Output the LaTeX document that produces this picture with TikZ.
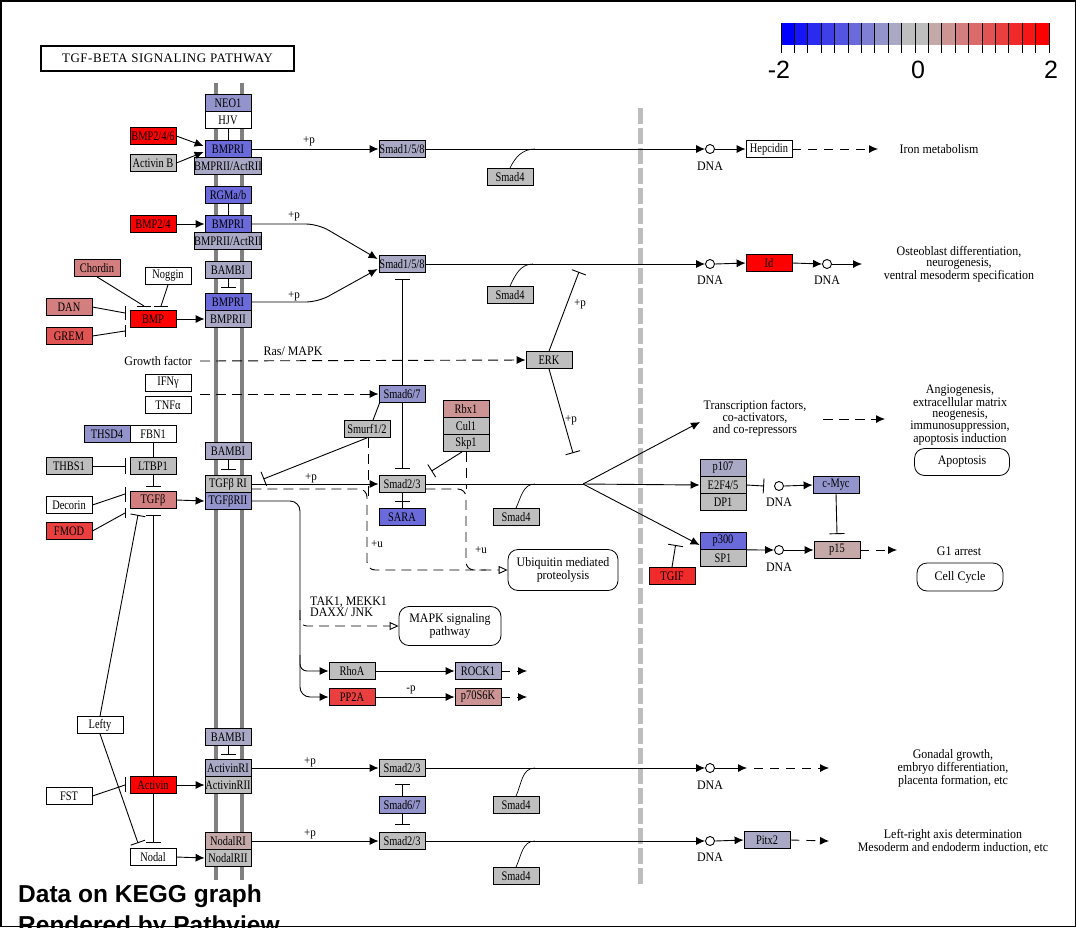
\documentclass[tikz,border=0pt]{standalone}
\usepackage{fontspec}
\setmainfont{Liberation Serif}
\newfontfamily\kfont{Liberation Serif}[FakeStretch=0.8]
\newfontfamily\lfont{Liberation Serif}[FakeStretch=0.92]
\newfontfamily\afont{Liberation Sans}
\usetikzlibrary{arrows.meta,calc}
\definecolor{kgray}{RGB}{190,190,190}
\definecolor{mgray}{RGB}{128,128,128}
\definecolor{b5}{RGB}{106,106,219}
\definecolor{b7}{RGB}{148,148,204}
\definecolor{b8}{RGB}{169,169,197}
\definecolor{r1}{RGB}{197,169,169}
\definecolor{r2}{RGB}{204,148,148}
\definecolor{r3}{RGB}{212,127,127}
\definecolor{r5}{RGB}{226,84,84}
\definecolor{r6}{RGB}{233,63,63}
\definecolor{r7}{RGB}{241,42,42}
\definecolor{r9}{RGB}{255,0,0}
\tikzset{
 gene/.style={draw=black, line width=0.8pt, minimum width=46pt, minimum height=17pt, inner sep=0pt, font=\kfont\fontsize{13}{13}\selectfont},
 lbl/.style={font=\lfont\fontsize{13}{11}\selectfont, align=center, inner sep=0pt},
 small/.style={font=\lfont\fontsize{12}{12}\selectfont, inner sep=0pt},
 conn/.style={line width=0.9pt},
 act/.style={conn, -{Latex[length=9pt,width=8pt]}},
 inh/.style={conn, -{Bar[width=15pt,line width=0.9pt]}},
 dsh/.style={dash pattern=on 10pt off 6pt},
 sdsh/.style={dash pattern=on 9pt off 7pt},
 oarr/.style={conn, dsh, -{Triangle[open,length=9pt,width=8pt,fill=white]}},
 dna/.style={circle, draw, line width=0.9pt, minimum size=9pt, inner sep=0pt},
 pbox/.style={draw, rounded corners=10pt, line width=0.8pt, align=center, inner sep=0pt, font=\lfont\fontsize{13}{11}\selectfont},
}
\begin{document}
\begin{tikzpicture}[x=1pt,y=-1pt]
\useasboundingbox (0,0) rectangle (1076,927);
\fill[white] (0,0) rectangle (1076,927);
\draw[line width=1.5pt] (0.75,0.75) rectangle (1075.25,926.25);

% membranes
\draw[line width=4pt, mgray] (216,83) -- (216,880);
\draw[line width=4pt, mgray] (242,83) -- (242,880);
\draw[line width=5pt, kgray, dash pattern=on 16pt off 4pt] (640,108) -- (640,885);

% title
\node[draw, line width=1.2pt, minimum width=253pt, minimum height=25pt, inner sep=0pt,
  font=\fontsize{13}{13}\selectfont\addfontfeature{LetterSpace=4}] (title) at (167.5,58.5) {TGF-BETA SIGNALING PATHWAY};

% colour key
\foreach \i in {0,...,9} {
  \pgfmathsetmacro\pp{100*\i/9}
  \fill[kgray!\pp!blue] (781+\i*13.4,23) rectangle (781+\i*13.4+13.4,45);
  \fill[red!\pp!kgray] (781+134+\i*13.4,23) rectangle (781+134+\i*13.4+13.4,45);
}
\foreach \i in {0,...,20} \draw[line width=0.9pt] (781+\i*13.4,23) -- (781+\i*13.4,53);
\node[font=\afont\fontsize{25}{25}\selectfont, anchor=base, inner sep=0pt] (km2) at (779,78) {-2};
\node[font=\afont\fontsize{25}{25}\selectfont, anchor=base, inner sep=0pt] (k0) at (918,78) {0};
\node[font=\afont\fontsize{25}{25}\selectfont, anchor=base, inner sep=0pt] (k2) at (1051,78) {2};

% ---------- membrane receptors
\node[gene, fill=b7] (neo1) at (228,103) {NEO1};
\node[gene, fill=white] (hjv) at (228,120) {HJV};
\node[gene, fill=b5] (bmpri1) at (228,149) {BMPRI};
\node[gene, fill=b8] (bmprii1) at (228,166) {BMPRII/ActRII};
\node[gene, fill=b5] (rgm) at (228,195) {RGMa/b};
\node[gene, fill=b5] (bmpri2) at (228,224) {BMPRI};
\node[gene, fill=b8] (bmprii2) at (228,241) {BMPRII/ActRII};
\node[gene, fill=b8] (bambi1) at (228,270) {BAMBI};
\node[gene, fill=b5] (bmpri3) at (228,302) {BMPRI};
\node[gene, fill=b8] (bmprii3) at (228,319) {BMPRII};
\node[gene, fill=b8] (bambi2) at (228,451) {BAMBI};
\node[gene, fill=kgray] (tgfbr1) at (228,484) {TGFβ RI};
\node[gene, fill=b7] (tgfbr2) at (228,501) {TGFβRII};
\node[gene, fill=b8] (bambi3) at (228,737) {BAMBI};
\node[gene, fill=b8] (actr1) at (228,768) {ActivinRI};
\node[gene, fill=kgray] (actr2) at (228,785) {ActivinRII};
\node[gene, fill=r1] (nodr1) at (228,841) {NodalRI};
\node[gene, fill=kgray] (nodr2) at (228,858) {NodalRII};

% ---------- ligands
\node[gene, fill=r9] (bmp246) at (153,136) {BMP2/4/6};
\node[gene, fill=kgray] (actb) at (153,163) {Activin B};
\node[gene, fill=r9] (bmp24) at (153,224) {BMP2/4};
\node[gene, fill=r3] (chordin) at (97,268) {Chordin};
\node[gene, fill=white] (noggin) at (168,276) {Noggin};
\node[gene, fill=r3] (dan) at (69,307) {DAN};
\node[gene, fill=r5] (grem) at (69,336) {GREM};
\node[gene, fill=r9] (bmp) at (153,319) {BMP};
\node[lbl, anchor=east] (gf) at (192,361) {Growth factor};
\node[gene, fill=white] (ifng) at (168,383) {IFNγ};
\node[gene, fill=white] (tnfa) at (168,405) {TNFα};
\node[gene, fill=b7] (thsd4) at (107,434) {THSD4};
\node[gene, fill=white] (fbn1) at (153,434) {FBN1};
\node[gene, fill=kgray] (thbs1) at (69,466) {THBS1};
\node[gene, fill=kgray] (ltbp1) at (153,466) {LTBP1};
\node[gene, fill=r3] (tgfb) at (153,500) {TGFβ};
\node[gene, fill=white] (decorin) at (69,505) {Decorin};
\node[gene, fill=r6] (fmod) at (69,531) {FMOD};
\node[gene, fill=white] (lefty) at (100,725) {Lefty};
\node[gene, fill=white] (fst) at (69,796) {FST};
\node[gene, fill=r9] (activin) at (153,785) {Activin};
\node[gene, fill=white] (nodal) at (153,857) {Nodal};

% ---------- cytoplasm
\node[gene, fill=b8] (smad158a) at (402,149) {Smad1/5/8};
\node[gene, fill=kgray] (smad4a) at (510,177) {Smad4};
\node[gene, fill=b8] (smad158b) at (402,264) {Smad1/5/8};
\node[gene, fill=kgray] (smad4b) at (510,295) {Smad4};
\node[gene, fill=kgray] (erk) at (549,360) {ERK};
\node[gene, fill=b7] (smad67a) at (402,394) {Smad6/7};
\node[gene, fill=kgray] (smurf) at (367,429) {Smurf1/2};
\node[gene, fill=r2] (rbx1) at (466,409) {Rbx1};
\node[gene, fill=kgray] (cul1) at (466,426) {Cul1};
\node[gene, fill=kgray] (skp1) at (466,443) {Skp1};
\node[gene, fill=kgray] (smad23a) at (402,484) {Smad2/3};
\node[gene, fill=b5] (sara) at (402,517) {SARA};
\node[gene, fill=kgray] (smad4c) at (516,517) {Smad4};
\node[pbox, minimum width=110pt, minimum height=41pt] (ubiq) at (563,570) {Ubiquitin mediated\\proteolysis};
\node[lbl, anchor=north west, align=left] (tak) at (310,597) {TAK1, MEKK1\\DAXX/ JNK};
\node[pbox, minimum width=102pt, minimum height=39pt] (mapk) at (450,626) {MAPK signaling\\pathway};
\node[gene, fill=kgray] (rhoa) at (352,671) {RhoA};
\node[gene, fill=b8] (rock1) at (478,671) {ROCK1};
\node[gene, fill=r6] (pp2a) at (352,697) {PP2A};
\node[gene, fill=r2] (p70) at (478,697) {p70S6K};
\node[gene, fill=kgray] (smad23b) at (402,768) {Smad2/3};
\node[gene, fill=b7] (smad67b) at (402,805) {Smad6/7};
\node[gene, fill=kgray] (smad23c) at (402,841) {Smad2/3};
\node[gene, fill=kgray] (smad4d) at (516,805) {Smad4};
\node[gene, fill=kgray] (smad4e) at (516,876) {Smad4};

% ---------- nucleus
\node[dna] (dna1) at (710,149) {};
\node[lbl] (dna1l) at (710,166) {DNA};
\node[gene, fill=white] (hepcidin) at (769,149) {Hepcidin};
\node[lbl] (iron) at (939,149) {Iron metabolism};
\node[dna] (dna2) at (710,264) {};
\node[lbl] (dna2l) at (710,280) {DNA};
\node[gene, fill=r9] (id) at (769,263) {Id};
\node[dna] (dna3) at (827,264) {};
\node[lbl] (dna3l) at (827,280) {DNA};
\node[lbl] (osteo) at (959,264) {Osteoblast differentiation,\\neurogenesis,\\ventral mesoderm specification};
\node[lbl] (tf) at (755,418) {Transcription factors,\\co-activators,\\and co-repressors};
\node[lbl] (angio) at (960,415) {Angiogenesis,\\extracellular matrix\\neogenesis,\\immunosuppression,\\apoptosis induction};
\node[pbox, minimum width=95pt, minimum height=27pt] (apop) at (962,462) {Apoptosis};
\node[gene, fill=b8] (p107) at (723,468) {p107};
\node[gene, fill=kgray] (e2f) at (723,485) {E2F4/5};
\node[gene, fill=kgray] (dp1) at (723,502) {DP1};
\node[dna] (dna4) at (779,486) {};
\node[lbl] (dna4l) at (779,502) {DNA};
\node[gene, fill=b7] (cmyc) at (836,485) {c-Myc};
\node[gene, fill=b5] (p300) at (723,541) {p300};
\node[gene, fill=kgray] (sp1) at (723,558) {SP1};
\node[gene, fill=r7] (tgif) at (672,576) {TGIF};
\node[dna] (dna5) at (779,550) {};
\node[lbl] (dna5l) at (779,567) {DNA};
\node[gene, fill=r1] (p15) at (837,550) {p15};
\node[lbl] (g1) at (959,551) {G1 arrest};
\node[pbox, minimum width=86pt, minimum height=28pt] (cc) at (960,577) {Cell Cycle};
\node[dna] (dna6) at (710,768) {};
\node[lbl] (dna6l) at (710,785) {DNA};
\node[lbl] (gonad) at (953,768) {Gonadal growth,\\embryo differentiation,\\placenta formation, etc};
\node[dna] (dna7) at (710,841) {};
\node[lbl] (dna7l) at (710,857) {DNA};
\node[gene, fill=b8] (pitx2) at (767,840) {Pitx2};
\node[lbl] (lr) at (953,841) {Left-right axis determination\\Mesoderm and endoderm induction, etc};

% labels
\node[small] (p1) at (309,141) {+p};
\node[small] (p2) at (294,216) {+p};
\node[small] (p3) at (294,296) {+p};
\node[small] (p4) at (311,478) {+p};
\node[small] (p5) at (310,762) {+p};
\node[small] (p6) at (310,834) {+p};
\node[small] (p7) at (580,304) {+p};
\node[small] (p8) at (571,420) {+p};
\node[small] (u1) at (377,544) {+u};
\node[small] (u2) at (481,550) {+u};
\node[small] (mp) at (411,690) {-p};
\node[lbl] (ras) at (293,351) {Ras/ MAPK};

% free ends
\coordinate (j1) at (535,149);
\coordinate (j2) at (533,264);
\coordinate (j3) at (535,484);
\coordinate (j4) at (535,768);
\coordinate (j5) at (535,841);
\coordinate (br) at (583,484);
\coordinate (tfarr) at (700,422);
\coordinate (ifnst) at (200,394);
\coordinate (rockend) at (527,671);
\coordinate (p70end) at (527,697);
\coordinate (ironend) at (878,149);
\coordinate (osend) at (862,264);
\coordinate (tfst) at (823,419);
\coordinate (tfend) at (885,419);
\coordinate (p15end) at (897,550);
\coordinate (d6a) at (747,768);
\coordinate (d6b) at (754,768);
\coordinate (d6c) at (829,768);
\coordinate (pitend) at (829,841);
\coordinate (chb) at (144,306);
\coordinate (ngb) at (161,306);
\coordinate (danb) at (125,313);
\coordinate (gremb) at (125,331);
\coordinate (thb) at (125,466);
\coordinate (decb) at (125,494);
\coordinate (fmb) at (125,513);
\coordinate (fstb) at (125,785);

% ---------- connectors: left
\draw[act] (bmp246.east) -- ($(bmpri1.west)+(-1,-3)$);
\draw[act] (actb.east) -- ($(bmpri1.west)+(-1,3)$);
\draw[conn] (hjv.south) -- (bmpri1.north);
\draw[conn] (rgm.south) -- (bmpri2.north);
\draw[act] (bmp24.east) -- (bmpri2.west);
\draw[inh] (bambi1.south) -- ($(bmpri3.north)+(0,-5)$);
\draw[conn] (chordin.south) -- (chb);
\draw[conn] ($(chb)+(-7,0)$) -- ($(chb)+(7,0)$);
\draw[conn] (noggin.south) -- (ngb);
\draw[conn] ($(ngb)+(-7,0)$) -- ($(ngb)+(7,0)$);
\draw[conn] (dan.east) -- (danb);
\draw[conn] ($(danb)+(0,-7)$) -- ($(danb)+(0,7)$);
\draw[conn] (grem.east) -- (gremb);
\draw[conn] ($(gremb)+(0,-6)$) -- ($(gremb)+(0,6)$);
\draw[act] (bmp.east) -- (bmprii3.west);
\draw[act, dsh] ($(gf.east)+(8,0)$) -- (erk.west);
\draw[act, dsh] (ifnst) -- (smad67a.west);
\draw[conn] (fbn1.south) -- (ltbp1.north);
\draw[conn] (thbs1.east) -- (thb);
\draw[conn] ($(thb)+(0,-8)$) -- ($(thb)+(0,8)$);
\draw[inh] (ltbp1.south) -- ($(tgfb.north)+(0,-4)$);
\draw[conn] (decorin.east) -- (decb);
\draw[conn] ($(decb)+(0,-7)$) -- ($(decb)+(0,8)$);
\draw[conn] (fmod.east) -- (fmb);
\draw[conn] ($(fmb)+(0,-5)$) -- ($(fmb)+(0,5)$);
\draw[act] (tgfb.east) -- (tgfbr2.west);
\draw[inh] (bambi2.south) -- ($(tgfbr1.north)+(0,-5)$);
\draw[inh] (activin.north) -- ($(tgfb.south)+(0,6)$);
\draw[inh] (activin.south) -- ($(nodal.north)+(0,-5)$);
\draw[inh] (lefty.north) -- ($(tgfb.south)+(-15,6)$);
\draw[inh] (lefty.south) -- ($(nodal.north)+(-15,-5)$);
\draw[conn] (fst.east) -- (fstb);
\draw[conn] ($(fstb)+(0,-8)$) -- ($(fstb)+(0,7)$);
\draw[act] (activin.east) -- (actr2.west);
\draw[act] (nodal.east) -- (nodr2.west);
\draw[inh] (bambi3.south) -- ($(actr1.north)+(0,-4)$);

% ---------- connectors: middle
\draw[act] (bmpri1.east) -- (smad158a.west);
\draw[act, rounded corners=12pt] (bmpri2.east) -- (318,224) -- ($(smad158b.west)+(-1,-5)$);
\draw[act, rounded corners=12pt] (bmpri3.east) -- (318,302) -- ($(smad158b.west)+(-1,5)$);
\draw[act] (smad158a.east) -- (dna1.west);
\draw[conn, line width=0.7pt] (smad4a.north) to[out=65,in=180] (j1);
\draw[act] (smad158b.east) -- (dna2.west);
\draw[conn, line width=0.7pt] (smad4b.north) to[out=65,in=180] (j2);
\draw[inh] (smad67a.north) -- ($(smad158b.south)+(0,6)$);
\draw[inh] (smad67a.south) -- ($(smad23a.north)+(0,-6)$);
\draw[conn] ($(smurf.north)+(6,0)$) -- ($(smad67a.south west)+(1,0)$);
\draw[inh] (smurf.south) -- ($(tgfbr1.east)+(12,-5)$);
\draw[inh] ($(skp1.south)+(-4,0)$) -- ($(smad23a.north east)+(6,-4)$);
\draw[inh] (erk.north) -- ($(smad158b.south)+(177,-1)$);
\draw[inh] (erk.south) -- ($(smad23a.north)+(171,-22)$);
\draw[act] (tgfbr1.east) -- (smad23a.west);
\draw[oarr, rounded corners=8pt] ($(tgfbr1.east)+(0,5)$) -- (367,489) -- (367,570) -- (ubiq.west);
\draw[conn, dsh] ($(smurf.south)+(1,0)$) -- (368,496);
\draw[conn, dsh, rounded corners=8pt] ($(smad23a.east)+(0,5)$) -- (466,489) -- (466,570) -- (486,570);
\draw[conn, dsh] (skp1.south) -- (466,489);
\draw[conn] (smad23a.south) -- (sara.north);
\draw[inh] (sara.north) -- ($(sara.north)!0.5!(smad23a.south)$);
\draw[conn] (smad23a.east) -- (br);
\draw[conn, line width=0.7pt] (smad4c.north) to[out=65,in=180] (j3);
\draw[act, rounded corners=10pt] (tgfbr2.east) -- (300,501) -- (300,697) -- (pp2a.west);
\draw[oarr, rounded corners=7pt] (300,610) |- (mapk.west);
\draw[act, rounded corners=7pt] (300,655) |- (rhoa.west);
\draw[act] (rhoa.east) -- (rock1.west);
\draw[act] (pp2a.east) -- (p70.west);
\draw[act, sdsh] (rock1.east) -- (rockend);
\draw[act, sdsh] (p70.east) -- (p70end);
\draw[act] (actr1.east) -- (smad23b.west);
\draw[inh] (smad67b.north) -- ($(smad23b.south)+(0,7)$);
\draw[inh] (smad67b.south) -- ($(smad23c.north)+(0,-7)$);
\draw[act] (smad23b.east) -- (dna6.west);
\draw[conn, line width=0.7pt] (smad4d.north) to[out=65,in=180] (j4);
\draw[act] (nodr1.east) -- (smad23c.west);
\draw[act] (smad23c.east) -- (dna7.west);
\draw[conn, line width=0.7pt] (smad4e.north) to[out=65,in=180] (j5);

% ---------- connectors: nucleus
\draw[act] (dna1.east) -- (hepcidin.west);
\draw[act, sdsh] (hepcidin.east) -- (ironend);
\draw[act] (dna2.east) -- (id.west);
\draw[act] (id.east) -- (dna3.west);
\draw[act] (dna3.east) -- (osend);
\draw[act] (br) -- (e2f.west);
\draw[act] (br) -- (tfarr);
\draw[act] (br) -- ($(p300.west)+(0,4)$);
\draw[act, dsh] (tfst) -- (tfend);
\draw[inh] (e2f.east) -- ($(dna4.west)+(-10,0)$);
\draw[act] (dna4.east) -- (cmyc.west);
\draw[inh] (cmyc.south) -- ($(p15.north)+(0,-7)$);
\draw[act] (p300.south east) -- (dna5.west);
\draw[act] (dna5.east) -- (p15.west);
\draw[act, sdsh] (p15.east) -- (p15end);
\draw[inh] (tgif.north) -- ($(p300.west)+(-24,4)$);
\draw[act] (dna6.east) -- (d6a);
\draw[act, sdsh] (d6b) -- (d6c);
\draw[act] (dna7.east) -- (pitx2.west);
\draw[act, sdsh] (pitx2.east) -- (pitend);

% footer
\node[font=\afont\bfseries\fontsize{24.5}{25}\selectfont, anchor=base west, inner sep=0pt] (foot1) at (18,902) {Data on KEGG graph};
\node[font=\afont\bfseries\fontsize{24.5}{25}\selectfont, anchor=base west, inner sep=0pt] (foot2) at (18,933) {Rendered by Pathview};
\end{tikzpicture}
\end{document}
